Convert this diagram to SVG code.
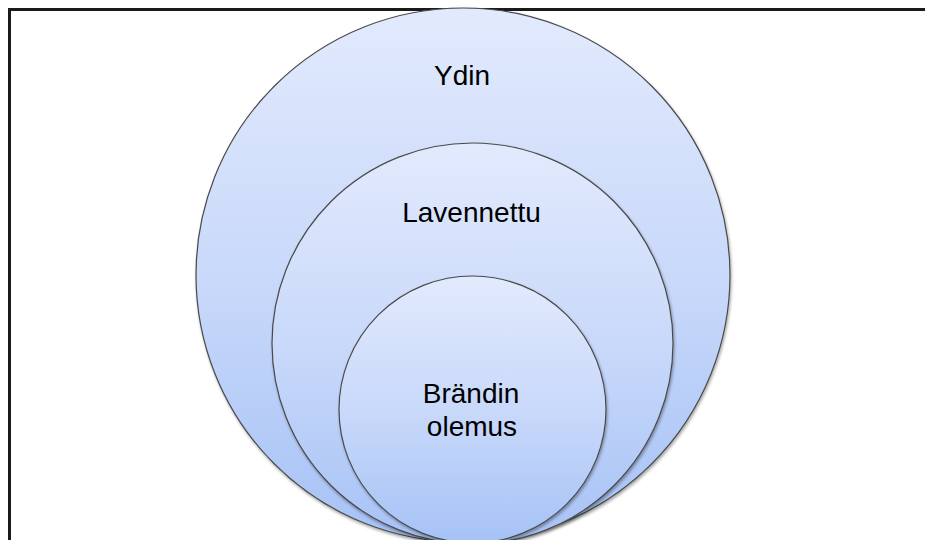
<svg xmlns="http://www.w3.org/2000/svg" width="925" height="540" viewBox="0 0 925 540">
  <defs>
    <linearGradient id="fill" x1="0" y1="0" x2="0" y2="1">
      <stop offset="0" stop-color="#e2eafd"/>
      <stop offset="0.5" stop-color="#c9d9fa"/>
      <stop offset="1" stop-color="#a6c2f6"/>
    </linearGradient>
    <filter id="shadow" x="-10%" y="-10%" width="120%" height="120%">
      <feDropShadow dx="1" dy="2" stdDeviation="1.5" flood-color="#000" flood-opacity="0.35"/>
    </filter>
  </defs>
  <style>
    .ring { fill: url(#fill); stroke: #4a4a4a; stroke-width: 1.2; filter: url(#shadow); }
    .label { font-family: "Liberation Sans", Arial, sans-serif; font-size: 28px; fill: #000; text-anchor: middle; }
    .frame { fill: none; stroke: #1a1a1a; stroke-width: 3; }
  </style>
  <rect width="925" height="540" fill="#fff"/>
  <path class="frame" d="M9.5,540 V9.5 H925"/>
  <g id="ydin">
    <circle class="ring" cx="463" cy="275" r="267"/>
    <text class="label" x="462" y="85">Ydin</text>
  </g>
  <g id="lavennettu">
    <circle class="ring" cx="472.5" cy="343.5" r="200.5"/>
    <text class="label" x="471.5" y="222">Lavennettu</text>
  </g>
  <g id="brandin-olemus">
    <circle class="ring" cx="472.5" cy="409.5" r="133.5"/>
    <text class="label" x="471" y="403">Brändin</text>
    <text class="label" x="472" y="436">olemus</text>
  </g>
  <g id="connectors"/>
</svg>
